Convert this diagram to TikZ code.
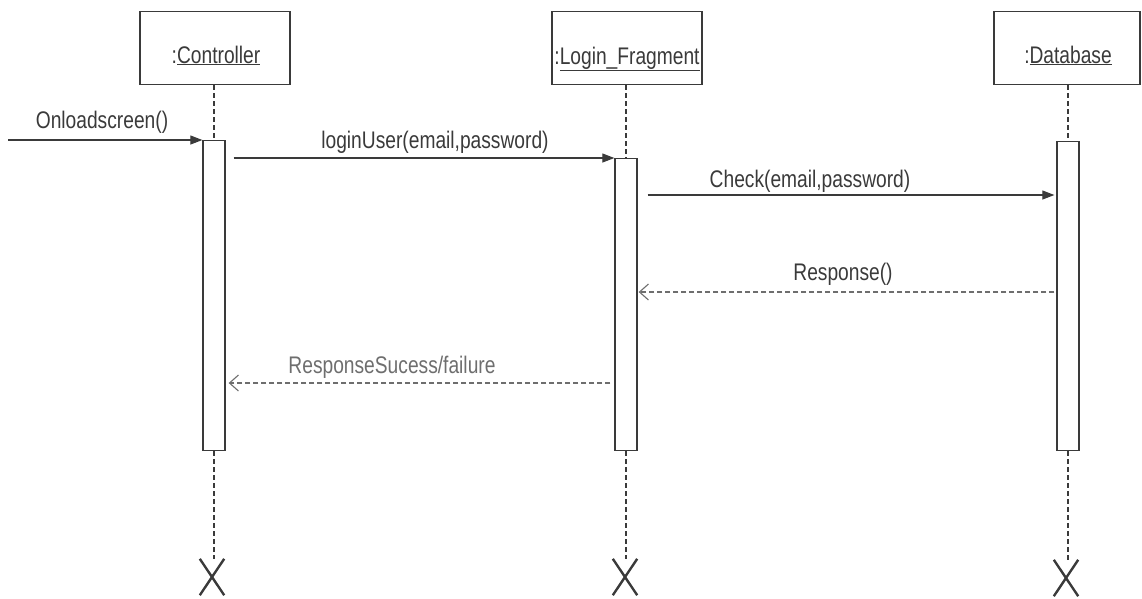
\documentclass[tikz,border=0pt]{standalone}
\usepackage{fontspec}
\setmainfont{Liberation Sans}[FakeStretch=0.8]
\usetikzlibrary{arrows.meta,shapes.misc}
\definecolor{ink}{HTML}{3A3A3A}
\definecolor{soft}{HTML}{6E6E6E}
\tikzset{
  obj/.style={draw=ink, line width=1.3pt, minimum width=150pt, minimum height=73pt, inner sep=0pt},
  objtext/.style={font=\fontsize{24}{28}\selectfont, text=ink, inner sep=0pt, anchor=base},
  act/.style={draw=ink, line width=1.3pt, minimum width=22pt, inner sep=0pt, anchor=north, fill=white},
  life/.style={draw=ink, line width=1.1pt, dash pattern=on 5pt off 3pt},
  msg/.style={draw=ink, line width=1.1pt, -{Triangle[length=12pt,width=9pt]}},
  ret/.style={draw=soft, line width=1.1pt, dash pattern=on 5pt off 3pt, -{Straight Barb[length=9pt,width=16pt]}},
  lbl/.style={font=\fontsize{24}{28}\selectfont, text=ink, inner sep=0pt, anchor=base},
  kill/.style={cross out, draw=ink, line width=2.4pt, minimum width=22pt, minimum height=34pt, inner sep=0pt},
}
\begin{document}
\begin{tikzpicture}[x=1pt,y=-1pt]
\useasboundingbox (0,0) rectangle (1142,598);
% objects
\node[obj] (c) at (215,48) {};
\node[obj] (l) at (627,48) {};
\node[obj, minimum width=146pt] (d) at (1067,48) {};
\node[objtext] (ct) at (216,63) {:\underline{Controller}};
\node[objtext] (lt) at (627,64) {:\underline{Login\_Fragment}};
\node[objtext] (dt) at (1068,63) {:\underline{Database}};
% activations
\node[act, minimum height=310pt] (ca) at (214,140) {};
\node[act, minimum height=292pt] (la) at (626,158) {};
\node[act, minimum height=309pt] (da) at (1068,141) {};
% destruction marks
\node[kill] (cx) at (212,577) {};
\node[kill] (lx) at (625,577) {};
\node[kill] (dx) at (1066,578) {};
% lifelines
\draw[life] (c.south -| ca.north) -- (ca.north);
\draw[life] (l.south -| la.north) -- (la.north);
\draw[life] (d.south -| da.north) -- (da.north);
\draw[life] (ca.south) -- (ca.south |- cx.north);
\draw[life] (la.south) -- (la.south |- lx.north);
\draw[life] (da.south) -- (da.south |- dx.north);
% messages
\coordinate (src) at (8,140);
\draw[msg] (src) -- (ca.north west);
\node[lbl] at (102,128) {Onloadscreen()};
\draw[msg] ([xshift=8pt]ca.east |- la.north) -- (la.north west);
\node[lbl] at (435,148) {loginUser(email,password)};
\draw[msg] ([xshift=10pt]la.east |- 0,195) -- ([xshift=-2pt]da.west |- 0,195);
\node[lbl] at (810,187) {Check(email,password)};
\draw[ret] ([xshift=-2pt]da.west |- 0,292) -- ([xshift=1pt]la.east |- 0,292);
\node[lbl] at (843,280) {Response()};
\draw[ret] ([xshift=-4pt]la.west |- 0,383) -- ([xshift=3pt]ca.east |- 0,383);
\node[lbl, text=soft] at (392,373) {ResponseSucess/failure};
\end{tikzpicture}
\end{document}
